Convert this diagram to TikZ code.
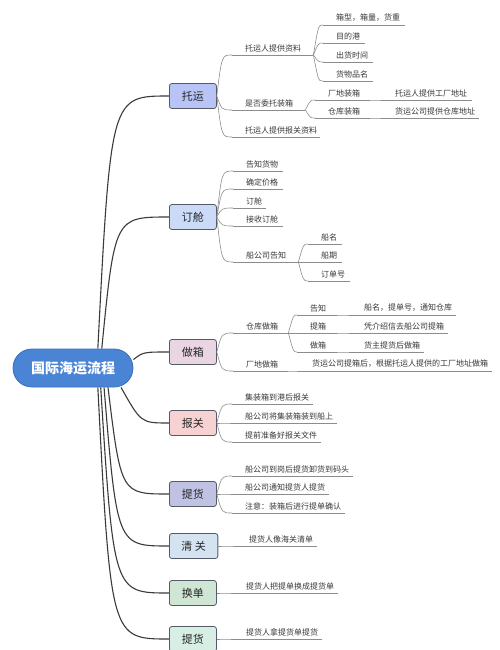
\documentclass[tikz,border=0pt]{standalone}
\usepackage{fontspec}
\setmainfont{Noto Sans CJK SC}
\usepackage{xcolor}
\usepackage{tikz}
\usetikzlibrary{calc,backgrounds}
\definecolor{rootc}{HTML}{4A85D5}
\definecolor{rootd}{HTML}{3C70BC}
\definecolor{boxd}{HTML}{555B66}
\definecolor{linec}{HTML}{3A3A3A}
\definecolor{subc}{HTML}{8C8C8C}
\definecolor{leafc}{HTML}{383838}
\definecolor{tyc}{HTML}{B8C4F5}
\definecolor{dcc}{HTML}{CADAF7}
\definecolor{zxc}{HTML}{EAD6E2}
\definecolor{bgc}{HTML}{F6D2D2}
\definecolor{thc}{HTML}{BFC2E3}
\definecolor{qgc}{HTML}{D3E3F1}
\definecolor{hdc}{HTML}{CFE6D4}
\definecolor{tqc}{HTML}{D6EEE4}
\tikzset{
  main/.style={linec,line width=1.1pt},
  sub/.style={subc,line width=0.6pt},
  fan/.style={to path={.. controls ($(\tikztostart |- \tikztotarget)+(#1,0)$) .. (\tikztotarget)}},
  fan/.default=5,
  rootbox/.style={draw=rootd,fill=rootc,line width=0.8pt,rounded corners=18.9pt,minimum width=120pt,minimum height=38pt,text=white,font=\bfseries\fontsize{14}{16}\selectfont},
  box/.style={draw=boxd,line width=0.8pt,rounded corners=2.5pt,anchor=west,minimum width=47pt,minimum height=25pt,inner xsep=12pt,font=\fontsize{11}{13}\selectfont,text=black!85},
  leaf/.style={anchor=south west,inner xsep=0pt,inner ysep=3pt,font=\fontsize{8}{9.6}\selectfont,text=leafc}
}
\begin{document}
\begin{tikzpicture}[x=1pt,y=-1pt]
\useasboundingbox (0,0) rectangle (500,650);
\node[rootbox] (root) at (73,368) {国际海运流程};
% steps
\foreach \n/\y/\c/\t in {ty/96/tyc/托运, dc/217/dcc/订舱, zx/352/zxc/做箱, bg/423/bgc/报关,
  th/494/thc/提货, qg/546/qgc/清 关, hd/593/hdc/换单, th2/639/tqc/提货}
  \node[box,fill=\c] (\n) at (169,\y) {\t};
% underlined items
\foreach \n/\x/\y/\p/\t in {tA/245/55/12/托运人提供资料, tB/245/110/12/是否委托装箱, tC/245/137/3/托运人提供报关资料,
  tA1/336/25/5/箱型，箱量，货重, tA2/336/43/5/目的港, tA3/336/62/5/出货时间, tA4/336/81/5/货物品名,
  tB1/328/100/8/厂地装箱, tB2/328/118/8/仓库装箱, tB1a/395/100/5/托运人提供工厂地址, tB2a/395/118/4/货运公司提供仓库地址,
  d1/246/171/5/告知货物, d2/246/189/5/确定价格, d3/246/208/4/订舱, d4/246/226/5/接收订舱, d5/246/262/12/船公司告知,
  d51/321/244/5/船名, d52/321/262/5/船期, d53/321/281/5/订单号,
  z1/246/333/10/仓库做箱, z2/246/371/8/厂地做箱, z11/310/315/8/告知, z12/310/333/8/提箱, z13/310/352/8/做箱,
  z11a/364/315/4/船名，提单号，通知仓库, z12a/364/333/4/凭介绍信去船公司提箱, z13a/364/352/4/货主提货后做箱,
  z2a/312/371/4/货运公司提箱后，根据托运人提供的工厂地址做箱,
  b1/245/404/4/集装箱到港后报关, b2/245/423/4/船公司将集装箱装到船上, b3/245/442/4/提前准备好报关文件,
  h1/245/476/4/船公司到岗后提货卸货到码头, h2/245/494/4/船公司通知提货人提货, h3/245/513/4/注意：装箱后进行提单确认,
  q1/249/546/4/提货人像海关清单, e1/246/593/4/提货人把提单换成提货单, p1/246/639/4/提货人拿提货单提货}{
  \node[leaf] (\n) at (\x,\y) {\t};
  \coordinate (\n-in) at ([xshift=-13pt]\n.south west);
  \coordinate (\n-out) at ([xshift=\p pt]\n.south east);
  \draw[sub] (\n-in) -- (\n-out);}
% thin branches
\foreach \a/\b in {ty.east/tA, ty.east/tB, ty.east/tC, tA-out/tA1, tA-out/tA2, tA-out/tA3, tA-out/tA4,
  tB-out/tB1, tB-out/tB2, tB1-out/tB1a, tB2-out/tB2a,
  dc.east/d1, dc.east/d2, dc.east/d3, dc.east/d4, dc.east/d5, d5-out/d51, d5-out/d52, d5-out/d53,
  zx.east/z1, zx.east/z2, z1-out/z11, z1-out/z12, z1-out/z13, z11-out/z11a, z12-out/z12a, z13-out/z13a, z2-out/z2a,
  bg.east/b1, bg.east/b2, bg.east/b3, th.east/h1, th.east/h2, th.east/h3,
  qg.east/q1, hd.east/e1, th2.east/p1}
  \draw[sub] (\a) to[fan] (\b-in);
% main branches
\begin{scope}[on background layer]
\foreach \s/\b/\k in {38/ty/13, 34/dc/13, 8/zx/10, -22/bg/20, -29/th/13, -32/qg/13, -35/hd/13, -38/th2/13}
  \draw[main] (root.\s) to[fan=\k] (\b.west);
\end{scope}
\end{tikzpicture}
\end{document}
